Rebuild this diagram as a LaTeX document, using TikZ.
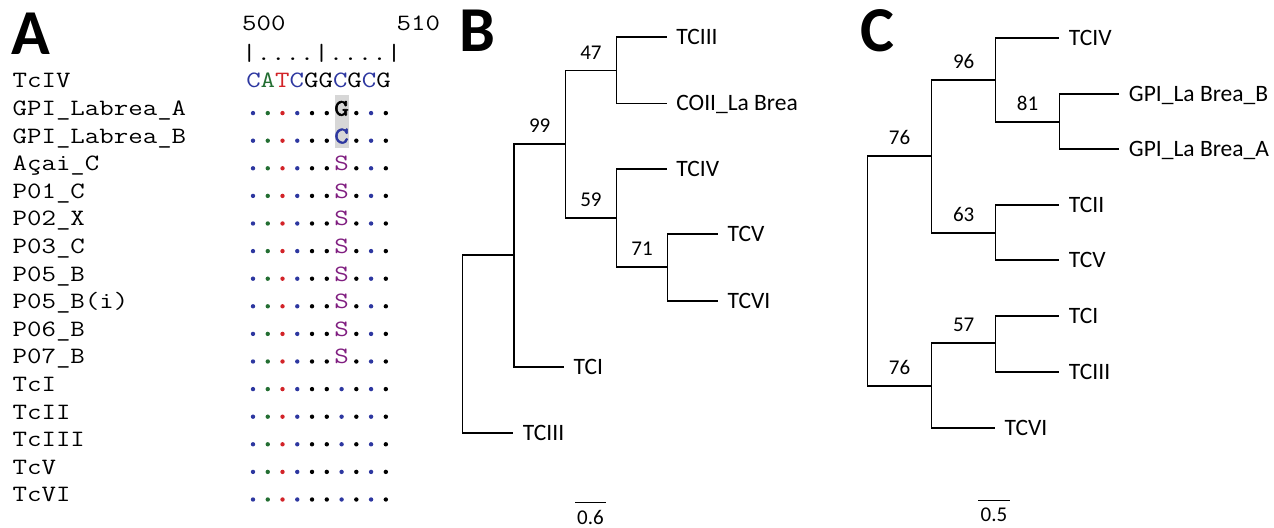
\documentclass[tikz,border=0pt]{standalone}
\usepackage{fontspec}
\newfontfamily\seqfont{Latin Modern Mono}[FakeStretch=1.2]
\newfontfamily\seqboldfont{Latin Modern Mono}[FakeStretch=1.2,FakeBold=2.5]
\newfontfamily\treefont{Carlito}
\usetikzlibrary{positioning}
\definecolor{ntblue}{RGB}{45,55,160}
\definecolor{ntgreen}{RGB}{35,110,50}
\definecolor{ntred}{RGB}{210,35,40}
\definecolor{ntpurple}{RGB}{128,30,128}
\definecolor{hlgrey}{RGB}{215,215,215}

\begin{document}
\begin{tikzpicture}[x=0.5pt,y=-0.5pt,line width=0.65pt]
  \tikzstyle{panel}=[font=\treefont\bfseries\fontsize{32}{32}\selectfont,anchor=base west,inner sep=0pt]
  \tikzstyle{seq}=[font=\seqfont\fontsize{11.7}{14}\selectfont,anchor=base west,inner sep=0pt]
  \tikzstyle{col}=[font=\seqfont\fontsize{11.7}{14}\selectfont,anchor=base,inner sep=0pt]
  \tikzstyle{colb}=[font=\seqboldfont\fontsize{11.7}{14}\selectfont,anchor=base,inner sep=0pt]
  \tikzstyle{leaf}=[font=\treefont\fontsize{11.75}{13}\selectfont,anchor=west,inner sep=4.5pt,text height=7.5pt,text depth=0pt]
  \tikzstyle{boot}=[font=\treefont\fontsize{10.5}{12}\selectfont,above,inner sep=2pt,yshift=3.2pt]
  \tikzstyle{scl}=[font=\treefont\fontsize{10.5}{12}\selectfont,below,inner sep=3.5pt]
  \useasboundingbox (0,0) rectangle (1274,528);

  % panel A: alignment
  \node[panel] (pA) at (11,55) {A};
  \node[seq] (p500) at (241.5,31) {500};
  \node[seq] (p510) at (396,31) {510};
  \node[seq] (ruler) at (241.5,61) {|....|....|};
  \foreach \name [count=\i from 0] in {TcIV,GPI\_Labrea\_A,GPI\_Labrea\_B,Açai\_C,P01\_C,P02\_X,P03\_C,P05\_B,P05\_B(i),P06\_B,P07\_B,TcI,TcII,TcIII,TcV,TcVI}
    \node[seq] (r\i) at (12,{88+27.6*\i}) {\name};
  \node[seq] (sTcIV) at (245.6,87.5) {\textcolor{ntblue}{C}\textcolor{ntgreen}{A}\textcolor{ntred}{T}\textcolor{ntblue}{C}GG\textcolor{ntblue}{C}G\textcolor{ntblue}{C}G};
  \fill[hlgrey] (334.5,95) rectangle (348.5,148);
  \node[colb] (sGPIA) at (341.6,115.6) {G};
  \node[colb,text=ntblue] (sGPIB) at (341.6,143.2) {C};
  \foreach \r in {3,...,10}
    \node[col,text=ntpurple] (s\r) at (341.6,{88+27.6*\r}) {S};
  \foreach \r in {1,...,15}
    \foreach \c/\clr in {0/ntblue,1/ntgreen,2/ntred,3/ntblue,4/black,5/black,7/black,8/ntblue,9/black}
      \fill[\clr] ({253+14.76*\c},{85.5+27.6*\r}) circle[radius=1.1pt];
  \foreach \r in {11,...,15}
    \fill[ntblue] (341.6,{85.5+27.6*\r}) circle[radius=1.1pt];

  % panel B: tree
  \node[panel] (pB) at (459,52) {B};
  \coordinate (b0) at (462.7,344);
  \coordinate (b1) at (514,255);
  \coordinate (b2) at (565.3,144);
  \coordinate (b3) at (616.5,70.5);
  \coordinate (b4) at (616.5,218);
  \coordinate (b5) at (667.7,267);
  \node[leaf] (bTCIIIa) at (666.7,37) {TCIII};
  \node[leaf] (bCOII) at (666.7,103.3) {COII\_La Brea};
  \node[leaf] (bTCIV) at (666.7,169) {TCIV};
  \node[leaf] (bTCV) at (718,234) {TCV};
  \node[leaf] (bTCVI) at (718,301) {TCVI};
  \node[leaf] (bTCI) at (564,367) {TCI};
  \node[leaf] (bTCIIIb) at (513.3,433) {TCIII};
  \draw (b0) |- (b1);
  \draw (b0) |- (bTCIIIb);
  \draw (b1) |- node[boot,pos=0.75] {99} (b2);
  \draw (b1) |- (bTCI);
  \draw (b2) |- node[boot,pos=0.75] {47} (b3);
  \draw (b2) |- node[boot,pos=0.75] {59} (b4);
  \draw (b3) |- (bTCIIIa);
  \draw (b3) |- (bCOII);
  \draw (b4) |- (bTCIV);
  \draw (b4) |- node[boot,pos=0.75] {71} (b5);
  \draw (b5) |- (bTCV);
  \draw (b5) |- (bTCVI);
  \coordinate (sbB1) at (575,502.5);
  \coordinate (sbB2) at (606,502.5);
  \draw (sbB1) -- node[scl] {0.6} (sbB2);

  % panel C: tree
  \node[panel] (pC) at (860,52) {C};
  \coordinate (c0) at (867.3,271);
  \coordinate (cu) at (931.7,156);
  \coordinate (cl) at (931.7,386);
  \coordinate (cu1) at (995.7,80);
  \coordinate (cu2) at (1059.3,122);
  \coordinate (cu3) at (995.7,233);
  \coordinate (cl1) at (995.7,343);
  \node[leaf] (cTCIV) at (1059.3,38) {TCIV};
  \node[leaf] (cGPIB) at (1119.3,94) {GPI\_La Brea\_B};
  \node[leaf] (cGPIA) at (1119.3,149) {GPI\_La Brea\_A};
  \node[leaf] (cTCII) at (1059.3,205) {TCII};
  \node[leaf] (cTCV) at (1059.3,260) {TCV};
  \node[leaf] (cTCI) at (1059.3,316) {TCI};
  \node[leaf] (cTCIII) at (1059.3,372) {TCIII};
  \node[leaf] (cTCVI) at (995,428) {TCVI};
  \draw (c0) |- node[boot,pos=0.75] {76} (cu);
  \draw (c0) |- node[boot,pos=0.75] {76} (cl);
  \draw (cu) |- node[boot,pos=0.75] {96} (cu1);
  \draw (cu) |- node[boot,pos=0.75] {63} (cu3);
  \draw (cu1) |- (cTCIV);
  \draw (cu1) |- node[boot,pos=0.75] {81} (cu2);
  \draw (cu2) |- (cGPIB);
  \draw (cu2) |- (cGPIA);
  \draw (cu3) |- (cTCII);
  \draw (cu3) |- (cTCV);
  \draw (cl) |- node[boot,pos=0.75] {57} (cl1);
  \draw (cl) |- (cTCVI);
  \draw (cl1) |- (cTCI);
  \draw (cl1) |- (cTCIII);
  \coordinate (sbC1) at (978,500.5);
  \coordinate (sbC2) at (1010,500.5);
  \draw (sbC1) -- node[scl] {0.5} (sbC2);
\end{tikzpicture}
\end{document}
